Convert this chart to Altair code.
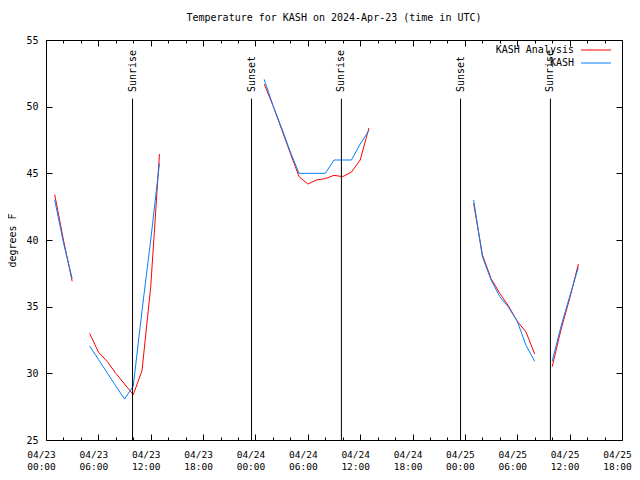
import altair as alt
import pandas as pd

# ---------------- data ----------------
hours = [1, 2, 3,
         5, 6, 7, 8, 9, 10, 11, 12, 13,
         25, 26, 27, 28, 29, 30, 31, 32, 33, 34, 35, 36, 37,
         49, 50, 51, 52, 53, 54, 55, 56,
         58, 59, 60, 61]
analysis = [43.4, 40.0, 36.9,
            33.0, 31.6, 30.9, 30.0, 29.2, 28.4, 30.2, 36.5, 46.45,
            51.7, 50.1, 48.3, 46.5, 44.75, 44.2, 44.5, 44.6, 44.85, 44.75, 45.1, 46.0, 48.4,
            42.75, 38.9, 37.1, 36.0, 35.05, 33.9, 33.1, 31.45,
            30.5, 33.25, 35.6, 38.2]
observed = [43.0, 39.8, 37.1,
            32.05, 31.05, 30.05, 29.05, 28.07, 29.05, 34.7, 40.0, 45.75,
            52.05, 50.1, 48.4, 46.6, 45.0, 45.0, 45.0, 45.0, 46.0, 46.0, 46.0, 47.2, 48.2,
            43.0, 38.75, 37.0, 35.75, 34.95, 33.9, 32.1, 30.9,
            30.9, 33.5, 35.75, 37.95]
series_names = ["KASH Analysis", "KASH"]
series_colors = ["#ff0000", "#0080ff"]

event_labels = ["Sunrise", "Sunset", "Sunrise", "Sunset", "Sunrise"]
event_times = ["2024-04-23T09:55:00Z", "2024-04-23T23:33:00Z", "2024-04-24T09:51:00Z",
               "2024-04-24T23:30:00Z", "2024-04-25T09:48:00Z"]
event_line_top = 50.6
event_label_y = 51.1

y_ticks = [25, 30, 35, 40, 45, 50, 55]
x_major_hours = list(range(0, 67, 6))
x_minor_hours = [h for h in range(0, 67, 2) if h % 6 != 0]

FONT = "DejaVu Sans Mono"


def stamp(h):
    d = 23 + h // 24
    return f"2024-04-{d:02d}T{h % 24:02d}:00:00Z"


def dt(h):
    return alt.DateTime(year=2024, month=4, date=23 + h // 24, hours=h % 24, utc=True)


# segment ids (break lines where hours are missing)
seg = []
s = 0
for i, h in enumerate(hours):
    if i > 0 and h - hours[i - 1] > 1:
        s += 1
    seg.append(s)

rows = []
for name, vals in zip(series_names, [analysis, observed]):
    for h, v, g in zip(hours, vals, seg):
        rows.append({"time": stamp(h), "temp": v, "series": name, "seg": g})
df = pd.DataFrame(rows)
ev = pd.DataFrame({"time": event_times, "label": event_labels,
                   "top": [event_line_top] * len(event_times),
                   "bottom": [y_ticks[0]] * len(event_times),
                   "ly": [event_label_y] * len(event_times)})

xscale = alt.Scale(type="utc", domain=[dt(0), dt(66)])
yscale = alt.Scale(domain=[25, 55], nice=False, zero=False)

label_expr = "[utcFormat(datum.value, '%m/%d'), utcFormat(datum.value, '%H:%M')]"

x_main_axis = alt.Axis(values=[dt(h) for h in x_major_hours], labelExpr=label_expr,
                       tickSize=6, offset=-6, labelPadding=9, domain=False, grid=False,
                       title=None, labelFont=FONT, labelFontSize=9.5, labelColor="black",
                       tickColor="black", labelLineHeight=12, labelOffset=-5,
                       labelAngle=0, labelOverlap=False, labelFlush=False)
y_main_axis = alt.Axis(values=y_ticks, tickSize=6, offset=-6, labelPadding=8, domain=False,
                       grid=False, title="degrees F", titleFont=FONT, titleFontSize=10,
                       titleFontWeight="normal", titleColor="black", titlePadding=8,
                       labelFont=FONT, labelFontSize=10, labelColor="black", tickColor="black")

lines = alt.Chart(df).mark_line(strokeWidth=1, clip=True).encode(
    x=alt.X("time:T", scale=xscale, axis=x_main_axis),
    y=alt.Y("temp:Q", scale=yscale, axis=y_main_axis),
    color=alt.Color("series:N",
                    scale=alt.Scale(domain=series_names, range=series_colors),
                    sort=series_names,
                    legend=alt.Legend(orient="none", legendX=545, legendY=5, title=None,
                                      symbolType="M-5,0H5", symbolSize=36,
                                      symbolStrokeWidth=1, labelAlign="right",
                                      labelOffset={"expr": "-27"}, labelFont=FONT,
                                      labelFontSize=10, labelColor="black", rowPadding=3,
                                      padding=0)),
    detail="seg:N",
)

rules = alt.Chart(ev).mark_rule(color="black", strokeWidth=1).encode(
    x=alt.X("time:T", scale=xscale, axis=None),
    y=alt.Y("top:Q", scale=yscale, axis=None),
    y2="bottom:Q",
)

texts = alt.Chart(ev).mark_text(angle=270, align="left", baseline="middle",
                                font=FONT, fontSize=10, color="black").encode(
    x=alt.X("time:T", scale=xscale, axis=None),
    y=alt.Y("ly:Q", scale=yscale, axis=None),
    text="label:N",
)


def host(xaxis, yaxis):
    return alt.Chart(df).mark_point(opacity=0).encode(
        x=alt.X("time:T", scale=xscale, axis=xaxis),
        y=alt.Y("temp:Q", scale=yscale, axis=yaxis),
    )


blank = dict(labels=False, domain=False, grid=False, title=None, tickColor="black")
top_major = host(alt.Axis(orient="top", values=[dt(h) for h in x_major_hours], tickSize=6, offset=-6, **blank),
                 alt.Axis(orient="right", values=y_ticks, tickSize=6, offset=-6, **blank))
top_minor = host(alt.Axis(orient="top", values=[dt(h) for h in x_minor_hours], tickSize=3, offset=-3, **blank), None)
bottom_minor = host(alt.Axis(orient="bottom", values=[dt(h) for h in x_minor_hours], tickSize=3, offset=-3, **blank), None)

chart = alt.layer(lines, rules, texts, top_major, top_minor, bottom_minor).resolve_axis(
    x="independent", y="independent"
).properties(
    width=576, height=400,
    title=alt.Title("Temperature for KASH on 2024-Apr-23 (time in UTC)", font=FONT,
                    fontSize=10, fontWeight="normal", color="black", anchor="middle",
                    offset=12),
    autosize=alt.AutoSizeParams(type="none"),
    padding={"left": 38, "top": 32, "right": 10, "bottom": 32},
    background="white",
).configure_view(stroke="black", strokeWidth=1)

chart.save("out.html", embed_options={"renderer": "svg", "actions": False})
